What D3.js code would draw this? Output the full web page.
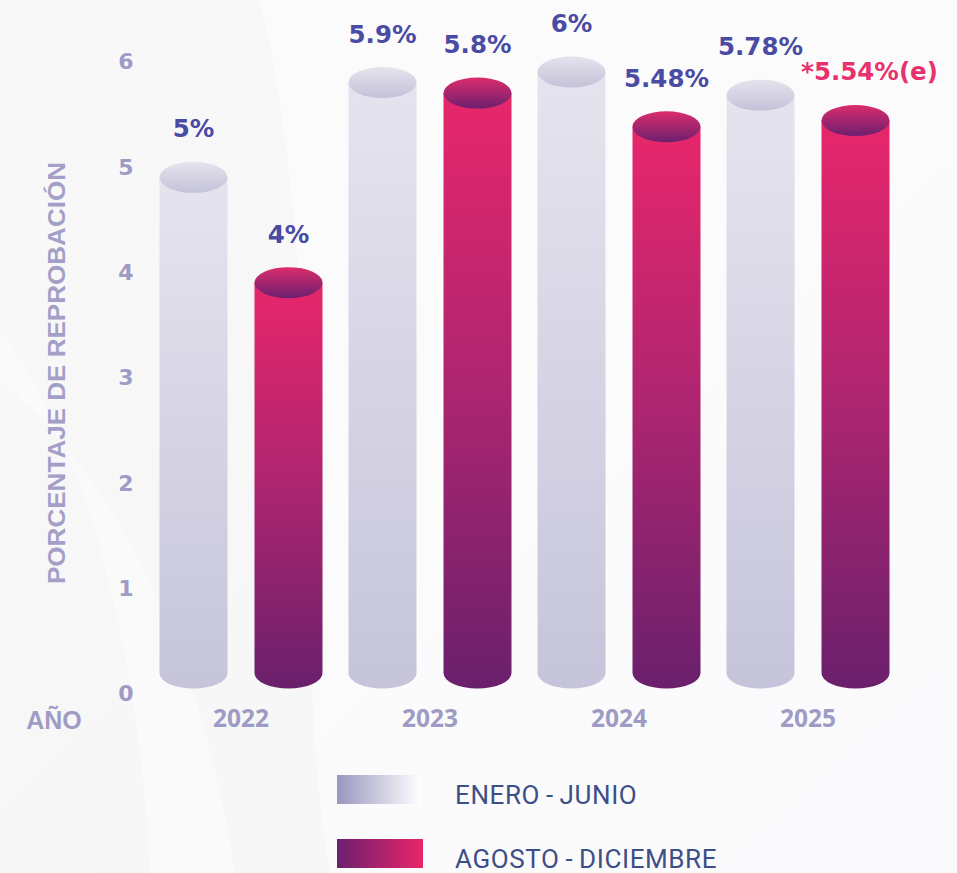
<!DOCTYPE html>
<html><head><meta charset="utf-8">
<script src="https://cdn.jsdelivr.net/npm/d3@7"></script>
<style>html,body{margin:0;padding:0;background:#f7f7f8;}svg{display:block;}</style>
</head><body>
<script>
const years = ["2022", "2023", "2024", "2025"];
const series = ["ENERO - JUNIO", "AGOSTO - DICIEMBRE"];
const eneroJunio = [5, 5.9, 6, 5.78];
const agostoDiciembre = [4, 5.8, 5.48, 5.54];
const eneroLabels = ["5%", "5.9%", "6%", "5.78%"];
const agostoLabels = ["4%", "5.8%", "5.48%", "*5.54%(e)"];
const yTicks = [0, 1, 2, 3, 4, 5, 6];

const W = 957, H = 873;
const svg = d3.select("body").append("svg").attr("width", W).attr("height", H);
const defs = svg.append("defs");

function lin(id, stops, x2, y2) {
  const g = defs.append("linearGradient").attr("id", id)
    .attr("x1", 0).attr("y1", 0).attr("x2", x2).attr("y2", y2);
  stops.forEach(s => g.append("stop").attr("offset", s[0]).attr("stop-color", s[1]));
}
lin("bgG", [[0, "#f8f8f9"], [1, "#f6f6f7"]], 1, 1);
lin("lightBody", [[0, "#e5e4ee"], [1, "#c6c4da"]], 0, 1);
lin("lightCap", [[0, "#e4e3ed"], [1, "#c4c2d8"]], 0, 1);
lin("pinkBody", [[0, "#e8266b"], [0.5, "#ad2570"], [1, "#6a206c"]], 0, 1);
lin("pinkCap", [[0, "#dc2c6d"], [1, "#6c1f6e"]], 0, 1);
lin("legLight", [[0, "#9896bf"], [1, "#ffffff"]], 1, 0);
lin("legPink", [[0, "#6c1f6e"], [1, "#e9256a"]], 1, 0);

// background
svg.append("rect").attr("width", W).attr("height", H).attr("fill", "url(#bgG)");
svg.append("path").attr("d", "M0,330 C90,450 140,660 150,873 L235,873 C200,650 120,480 0,380 Z")
  .attr("fill", "#ffffff").attr("opacity", 0.35);
svg.append("path").attr("d", "M260,0 C330,300 290,650 330,873 L957,873 L957,0 Z")
  .attr("fill", "#fcfcfd").attr("opacity", 0.7);

const x0 = d3.scaleBand().domain(years).range([146.5, 902.5]).paddingInner(0).paddingOuter(0);
const x1 = d3.scalePoint().domain(series).range([-47.5, 47.5]);
const y = d3.scaleLinear().domain([0, 6]).range([693, 61]);

const barW = 68, ry = 15.5;
const capOffset = 11;      // bar top drawn slightly below tick value (as in reference)
const baseY = y(0) - 20;   // bottom ellipse center

const axisColor = "#9e9bc4";

// y tick labels
const yAxis = d3.axisLeft(y).tickValues(yTicks).tickSize(0).tickPadding(0).tickFormat(d3.format("d"));
const gy = svg.append("g").attr("transform", "translate(136,0)").call(yAxis);
gy.select(".domain").remove();
gy.selectAll("text").attr("fill", axisColor)
  .attr("font-family", "DejaVu Sans").attr("font-weight", "bold").attr("font-size", 22)
  .attr("text-anchor", "middle").attr("dx", -10).attr("dy", "0.36em");

// x axis labels
const xAxis = d3.axisBottom(x0).tickSize(0).tickPadding(0);
const gx = svg.append("g").attr("transform", "translate(0,727)").call(xAxis);
gx.select(".domain").remove();
gx.selectAll("text").attr("fill", axisColor).attr("dy", 0)
  .attr("font-family", "Open Sans").attr("font-weight", "bold").attr("font-size", 24.5);

// axis titles
svg.append("text").attr("transform", "translate(65,373) rotate(-90)")
  .attr("text-anchor", "middle").attr("fill", "#a3a0c8")
  .attr("font-family", "Liberation Sans").attr("font-weight", "bold").attr("font-size", 23.5)
  .attr("textLength", 422).attr("lengthAdjust", "spacingAndGlyphs")
  .text("PORCENTAJE DE REPROBACIÓN");
svg.append("text").attr("x", 54).attr("y", 729).attr("text-anchor", "middle")
  .attr("fill", axisColor).attr("font-family", "Liberation Sans").attr("font-weight", "bold")
  .attr("font-size", 25).text("AÑO");

// bars
const data = [];
years.forEach((yr, i) => {
  data.push({ yr, s: series[0], v: eneroJunio[i], label: eneroLabels[i], kind: "light" });
  data.push({ yr, s: series[1], v: agostoDiciembre[i], label: agostoLabels[i], kind: "pink" });
});

const bars = svg.append("g").selectAll("g").data(data).join("g")
  .attr("transform", d => `translate(${x0(d.yr) + x0.bandwidth() / 2 + x1(d.s)},0)`);

bars.append("path")
  .attr("d", d => {
    const top = y(d.v) + capOffset, r = barW / 2;
    return `M${-r},${top} L${-r},${baseY} A${r},${ry} 0 0 0 ${r},${baseY} L${r},${top} Z`;
  })
  .attr("fill", d => d.kind === "light" ? "url(#lightBody)" : "url(#pinkBody)");

bars.append("ellipse")
  .attr("cx", 0).attr("cy", d => y(d.v) + capOffset)
  .attr("rx", barW / 2).attr("ry", ry)
  .attr("fill", d => d.kind === "light" ? "url(#lightCap)" : "url(#pinkCap)");

bars.append("text")
  .attr("x", d => d.label.startsWith("*") ? 14 : 0)
  .attr("y", d => y(d.v) + capOffset - 40)
  .attr("text-anchor", "middle")
  .attr("font-family", "DejaVu Sans").attr("font-weight", "bold").attr("font-size", 24.5)
  .attr("fill", d => d.label.startsWith("*") ? "#e8326f" : "#4a4ba2")
  .text(d => d.label);

// legend
const legend = svg.append("g");
const legItems = [
  { name: series[0], fill: "url(#legLight)", y: 775, w: 84 },
  { name: series[1], fill: "url(#legPink)", y: 839, w: 86 }
];
legend.selectAll("rect").data(legItems).join("rect")
  .attr("x", 337).attr("y", d => d.y).attr("width", d => d.w).attr("height", 29)
  .attr("fill", d => d.fill);
legend.selectAll("text").data(legItems).join("text")
  .attr("x", 455).attr("y", d => d.y + 29)
  .attr("font-family", "Roboto").attr("font-size", 26).attr("letter-spacing", 0.6)
  .attr("fill", "#3c4f86")
  .text(d => d.name.replace(" - ", "\u2009-\u2009"));
</script>
</body></html>
